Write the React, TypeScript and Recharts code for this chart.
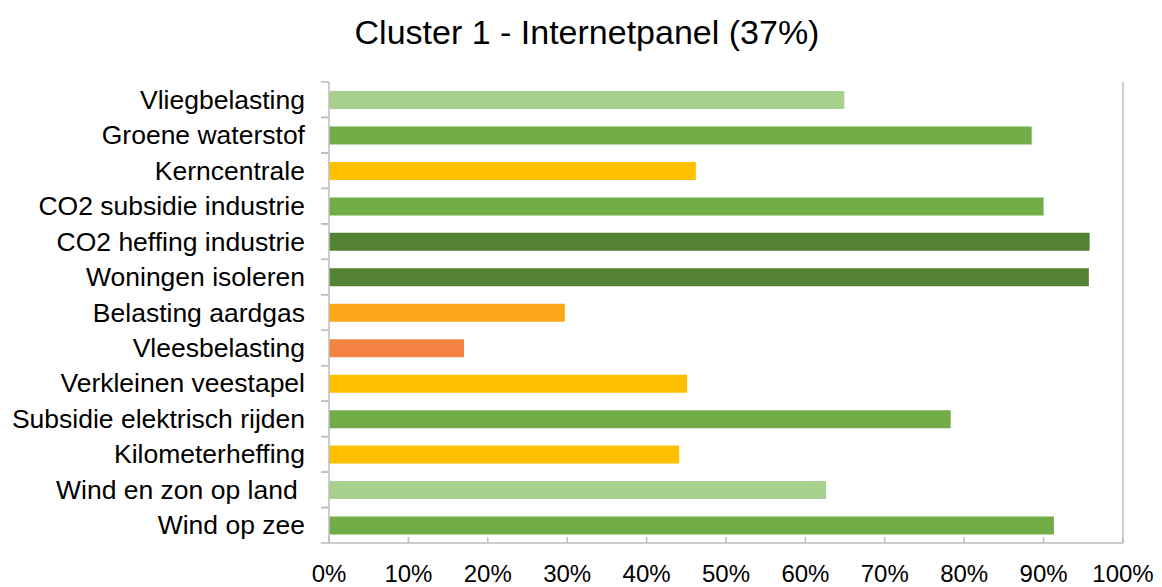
import React from 'react';
import { BarChart, Bar, XAxis, YAxis, Cell, ReferenceLine } from 'recharts';

const categories = [
  'Vliegbelasting',
  'Groene waterstof',
  'Kerncentrale',
  'CO2 subsidie industrie',
  'CO2 heffing industrie',
  'Woningen isoleren',
  'Belasting aardgas',
  'Vleesbelasting',
  'Verkleinen veestapel',
  'Subsidie elektrisch rijden',
  'Kilometerheffing',
  'Wind en zon op land ',
  'Wind op zee',
];

const values = [64.9, 88.5, 46.2, 90.0, 95.8, 95.7, 29.7, 17.0, 45.1, 78.3, 44.1, 62.6, 91.3];

const xTicks = [0, 10, 20, 30, 40, 50, 60, 70, 80, 90, 100];

const LIGHT_GREEN = '#A9D18E';
const GREEN = '#70AD47';
const DARK_GREEN = '#548235';
const YELLOW = '#FFC000';
const ORANGE = '#FBA619';
const SALMON = '#F48242';

const barColors = [
  LIGHT_GREEN, GREEN, YELLOW, GREEN, DARK_GREEN, DARK_GREEN, ORANGE, SALMON, YELLOW, GREEN, YELLOW, LIGHT_GREEN, GREEN,
];

const title = 'Cluster 1 - Internetpanel (37%)';

const data = categories.map((c, i) => ({ name: c, value: values[i] }));

const W = 1162;
const H = 587;
const TOP = 82;
const XAXIS_H = 44;
const YAXIS_W = 329;
const RIGHT = 39;
const PLOT_H = H - TOP - XAXIS_H;
const HALF_BAND = PLOT_H / categories.length / 2;
const FONT = '"Liberation Sans", Arial, sans-serif';
const AXIS_COLOR = '#BDBDBD';
const Y_TICK_MARGIN = 24;

const YTick = (props: any) => {
  const { x, y, payload } = props;
  const axisX = x + Y_TICK_MARGIN;
  return (
    <g>
      <line x1={axisX - 8} x2={axisX} y1={y - HALF_BAND} y2={y - HALF_BAND} stroke={AXIS_COLOR} strokeWidth={1.5} />
      <line x1={axisX - 8} x2={axisX} y1={y + HALF_BAND} y2={y + HALF_BAND} stroke={AXIS_COLOR} strokeWidth={1.5} />
      <text
        x={x}
        y={y}
        textAnchor="end"
        dominantBaseline="central"
        fontSize={26.5}
        fontFamily={FONT}
        fill="#000000"
        style={{ whiteSpace: 'pre' }}
      >
        {payload.value}
      </text>
    </g>
  );
};

export default function App() {
  return (
    <div style={{ position: 'absolute', left: 0, top: 0, width: W, height: H, background: '#FFFFFF' }}>
      <svg width={W} height={60} style={{ position: 'absolute', left: 0, top: 0 }}>
        <text x={587} y={44} textAnchor="middle" fontSize={34} fontFamily={FONT} fill="#000000">
          {title}
        </text>
      </svg>
      <div style={{ position: 'absolute', left: 0, top: 0 }}>
        <BarChart
          width={W}
          height={H}
          data={data}
          layout="vertical"
          margin={{ top: TOP, right: RIGHT, bottom: 0, left: 0 }}
          barSize={18}
        >
          <XAxis
            type="number"
            domain={[0, 100]}
            ticks={xTicks}
            interval={0}
            tickFormatter={(v: number) => `${v}%`}
            height={XAXIS_H}
            tickSize={-6}
            tickMargin={28}
            tickLine={{ stroke: AXIS_COLOR, strokeWidth: 1.5 }}
            axisLine={{ stroke: AXIS_COLOR, strokeWidth: 1.5 }}
            tick={{ fontSize: 24, fontFamily: FONT, fill: '#000000' }}
          />
          <XAxis
            xAxisId="top"
            orientation="top"
            type="number"
            domain={[0, 100]}
            height={0}
            tick={false}
            tickLine={false}
            axisLine={{ stroke: AXIS_COLOR, strokeWidth: 1.5 }}
          />
          <YAxis
            type="category"
            dataKey="name"
            width={YAXIS_W}
            interval={0}
            tickSize={0}
            tickMargin={Y_TICK_MARGIN}
            tickLine={false}
            axisLine={{ stroke: AXIS_COLOR, strokeWidth: 1.5 }}
            tick={<YTick />}
          />
          <ReferenceLine x={100} stroke={AXIS_COLOR} strokeWidth={1.5} />
          <Bar dataKey="value" isAnimationActive={false}>
            {data.map((d, i) => (
              <Cell key={d.name} fill={barColors[i]} />
            ))}
          </Bar>
        </BarChart>
      </div>
    </div>
  );
}
